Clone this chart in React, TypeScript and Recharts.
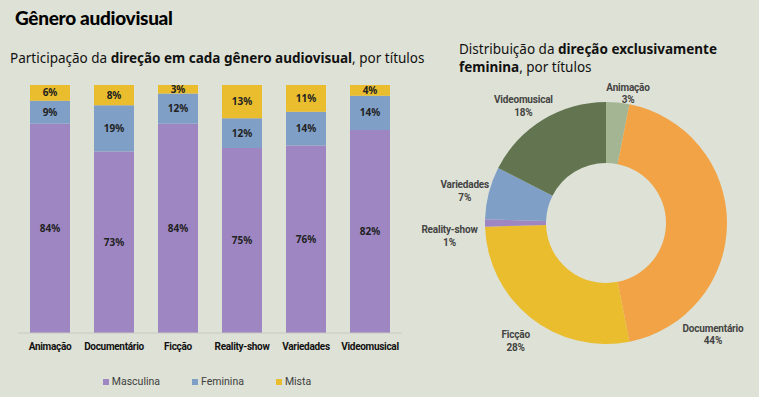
import React from "react";
import { BarChart, Bar, XAxis, YAxis, LabelList, Legend, PieChart, Pie, Cell } from "recharts";

const categories = ["Animação", "Documentário", "Ficção", "Reality-show", "Variedades", "Videomusical"];
const masculina = [84.4, 73.2, 84.4, 74.6, 75.6, 81.9];
const feminina = [9.2, 18.6, 12.2, 12.0, 13.6, 13.8];
const mista = [6.4, 8.2, 3.4, 13.4, 10.8, 4.3];

// distribuição da direção exclusivamente feminina
const pieNames = ["Animação", "Documentário", "Ficção", "Reality-show", "Variedades", "Videomusical"];
const pieValues = [3.1, 43.8, 27.6, 1.0, 7.0, 17.5];

const BG = "#dee1d5";
const FONT = "'Noto Sans', sans-serif";
const SMALL = "Roboto, sans-serif";
const barColors = { Masculina: "#9d86c2", Feminina: "#7f9fc6", Mista: "#e9bd2d" };
const pieColors = ["#a3b592", "#f2a346", "#e9bd2d", "#9d86c2", "#7f9fc6", "#637550"];
// label spot per slice: [degrees clockwise from top, radius]
const pieLabelSpots: [number, number][] = [
  [9.6, 132],
  [136, 154],
  [217.6, 148],
  [265.6, 157],
  [283, 145],
  [325, 144],
];

const barData = categories.map((c, i) => ({
  cat: c,
  Masculina: masculina[i],
  Feminina: feminina[i],
  Mista: mista[i],
}));
const pieData = pieNames.map((n, i) => ({ name: n, value: pieValues[i] }));

const pct = (v: any) => `${Math.round(Number(v))}%`;

function LegendContent() {
  const items = ["Masculina", "Feminina", "Mista"];
  return (
    <div style={{ display: "flex", justifyContent: "center", paddingTop: 14, paddingRight: 6, fontFamily: SMALL, fontSize: 10.5, color: "#404040" }}>
      {items.map((k) => (
        <div key={k} style={{ display: "flex", alignItems: "center", marginRight: k === "Mista" ? 0 : 32 }}>
          <span style={{ width: 6, height: 6, background: (barColors as any)[k], display: "inline-block", marginRight: 3 }} />
          {k}
        </div>
      ))}
    </div>
  );
}

function PieLabel(props: any) {
  const { cx, cy, index, name, value } = props;
  const [a, r] = pieLabelSpots[index];
  const rad = (a * Math.PI) / 180;
  const x = cx + r * Math.sin(rad);
  const y = cy - r * Math.cos(rad);
  return (
    <text x={x} y={y} textAnchor="middle" fontFamily={SMALL} fontSize={10} fontWeight={700} fill="#444" letterSpacing={-0.2}>
      <tspan x={x} dy={-2}>{name}</tspan>
      <tspan x={x} dy={12.5}>{pct(value)}</tspan>
    </text>
  );
}

export default function App() {
  return (
    <div style={{ position: "absolute", left: 0, top: 0, width: 759, height: 397, background: BG, fontFamily: FONT, overflow: "hidden" }}>
      <div style={{ position: "absolute", left: 15, top: 6, fontFamily: "Lato, sans-serif", fontSize: 19, fontWeight: 900, color: "#000", letterSpacing: -0.3 }}>
        Gênero audiovisual
      </div>
      <div style={{ position: "absolute", left: 10, top: 49, fontSize: 13.5, color: "#111" }}>
        Participação da <b>direção em cada gênero audiovisual</b>, por títulos
      </div>
      <div style={{ position: "absolute", left: 459, top: 40, fontSize: 13.5, color: "#111", lineHeight: "18px" }}>
        Distribuição da <b>direção exclusivamente</b>
        <br />
        <b>feminina</b>, por títulos
      </div>

      <div style={{ position: "absolute", left: 0, top: 75 }}>
        <BarChart
          width={420}
          height={322}
          data={barData}
          stackOffset="expand"
          barSize={40}
          margin={{ top: 10, right: 18, left: 18, bottom: 0 }}
        >
          <XAxis
            dataKey="cat"
            height={28}
            tickLine={false}
            axisLine={{ stroke: "#c9cbc2" }}
            interval={0}
            dy={2}
            tick={{ fontFamily: SMALL, fontSize: 10, fontWeight: 700, fill: "#111", letterSpacing: -0.3 }}
          />
          <YAxis hide domain={[0, 1]} />
          <Legend verticalAlign="bottom" height={36} content={<LegendContent />} />
          {(["Masculina", "Feminina", "Mista"] as const).map((k) => (
            <Bar key={k} dataKey={k} stackId="a" fill={barColors[k]} isAnimationActive={false}>
              <LabelList
                dataKey={k}
                position="center"
                formatter={pct}
                style={{ fontFamily: FONT, fontSize: 10, fontWeight: 700, fill: "#222" }}
              />
            </Bar>
          ))}
        </BarChart>
      </div>

      <div style={{ position: "absolute", left: 400, top: 0 }}>
        <PieChart width={359} height={397} margin={{ top: 0, right: 0, bottom: 0, left: 0 }}>
          <Pie
            data={pieData}
            dataKey="value"
            nameKey="name"
            cx={206}
            cy={223}
            innerRadius={60}
            outerRadius={121}
            startAngle={90}
            endAngle={-270}
            stroke="none"
            labelLine={false}
            label={PieLabel}
            isAnimationActive={false}
          >
            {pieData.map((d, i) => (
              <Cell key={d.name} fill={pieColors[i]} />
            ))}
          </Pie>
        </PieChart>
      </div>
    </div>
  );
}
